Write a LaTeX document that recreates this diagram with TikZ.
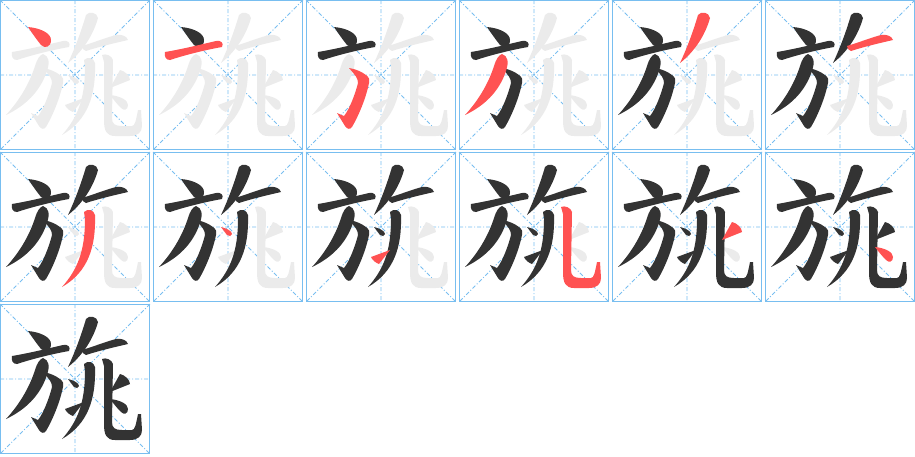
\documentclass[tikz,border=0pt]{standalone}
\definecolor{gridblue}{RGB}{120,190,240}
\definecolor{ink}{RGB}{51,51,51}
\definecolor{inkred}{RGB}{255,82,82}
\definecolor{ghostgray}{RGB}{235,235,235}
% strokes of the character, cell coordinates (150 x 150, y down)
\def\pdian{(28,27) .. controls (40,28) and (51,33) .. (51,40) .. controls (51,47) and (45,49) .. (41,45) .. controls (37,40) and (32,33) .. cycle}
\def\pheng{(12,52) .. controls (30,49) and (50,44) .. (63,41) .. controls (68,40) and (71,43) .. (69,47) .. controls (52,50) and (32,55) .. (17,60) .. controls (13,60) and (11,57) .. cycle}
\def\phzg{(43,68) .. controls (50,69) and (56,72) .. (60,75) .. controls (63,77) and (64,80) .. (63,83) .. controls (60,98) and (53,115) .. (46,127) .. controls (44,130) and (41,129) .. (39,126) -- (31,113) -- (38,116) .. controls (43,110) and (49,95) .. (52,83) .. controls (52,78) and (49,75) .. cycle}
\def\ppie{(43,54) .. controls (49,56) and (50,62) .. (47,71) .. controls (40,92) and (25,106) .. (6,115) .. controls (18,102) and (29,85) .. (35,66) .. controls (37,59) and (40,55) .. cycle}
\def\ppieb{(86,15) .. controls (89,11) and (97,12) .. (98,18) .. controls (93,36) and (82,52) .. (68,63) .. controls (75,48) and (81,32) .. cycle}
\def\phengb{(82,46) .. controls (95,42) and (108,37) .. (116,35) .. controls (121,34) and (127,36) .. (128,40) .. controls (115,43) and (98,47) .. (86,51) .. controls (84,51) and (82,48) .. cycle}
\def\ppiec{(84,60) .. controls (88,56) and (94,58) .. (95,63) .. controls (96,95) and (88,120) .. (62,135) .. controls (77,118) and (85,100) .. (85,67) -- cycle}
\def\pdianb{(68,75) .. controls (73,76) and (79,79) .. (79,82) .. controls (79,84) and (76,85) .. (74,83) .. controls (72,80) and (70,78) .. cycle}
\def\pti{(65,105) -- (84,98) -- (73,112) .. controls (70,111) and (66,108) .. cycle}
\def\pswg{(102,55) .. controls (106,53) and (112,56) .. (113,60) -- (112,118) .. controls (112,124) and (115,126) .. (122,126) -- (132,126) .. controls (135,126) and (136,120) .. (138,110) -- (141,110) -- (142,126) .. controls (142,132) and (138,136) .. (130,136) -- (115,136) .. controls (106,136) and (104,130) .. (104,120) -- (104,62) -- cycle}
\def\pdianc{(110,88) -- (120,70) .. controls (125,71) and (130,76) .. (130,80) -- cycle}
\def\pdiand{(110,95) .. controls (120,96) and (128,100) .. (128,105) .. controls (128,110) and (124,111) .. (121,108) .. controls (117,104) and (113,99) .. cycle}
\def\strokelist{\pdian,\pheng,\phzg,\ppie,\ppieb,\phengb,\ppiec,\pdianb,\pti,\pswg,\pdianc,\pdiand}
\begin{document}
\begin{tikzpicture}[x=0.5pt,y=-0.5pt,
    cellframe/.style={draw=gridblue,line width=0.5pt},
    guide/.style={draw=gridblue,line width=0.45pt,dash pattern=on 2pt off 1pt on 0.5pt off 1pt},
    ghost/.style={fill=ghostgray},
    done/.style={fill=ink},
    current/.style={fill=inkred}]
\useasboundingbox (0,0) rectangle (915,456);
\foreach \k in {1,...,13}{
  \pgfmathtruncatemacro\cx{153*mod(\k-1,6)}
  \pgfmathtruncatemacro\cy{152*floor((\k-1)/6)}
  \begin{scope}[shift={(\cx,\cy)}]
    \draw[guide] (0,0) -- (150,150) (150,0) -- (0,150) (75,0) -- (75,150) (0,75) -- (150,75);
    \draw[cellframe] (0.5,0.5) rectangle (149.5,149.5);
    % character in grey, then the strokes written so far
    \foreach \s [count=\j] in \strokelist{
      \ifnum\j>\k \fill[ghost] \s; \fi
    }
    \foreach \s [count=\j] in \strokelist{
      \ifnum\j<\k \fill[done] \s; \fi
      \ifnum\j=\k \fill[current] \s; \fi
    }
  \end{scope}
}
\end{tikzpicture}
\end{document}
